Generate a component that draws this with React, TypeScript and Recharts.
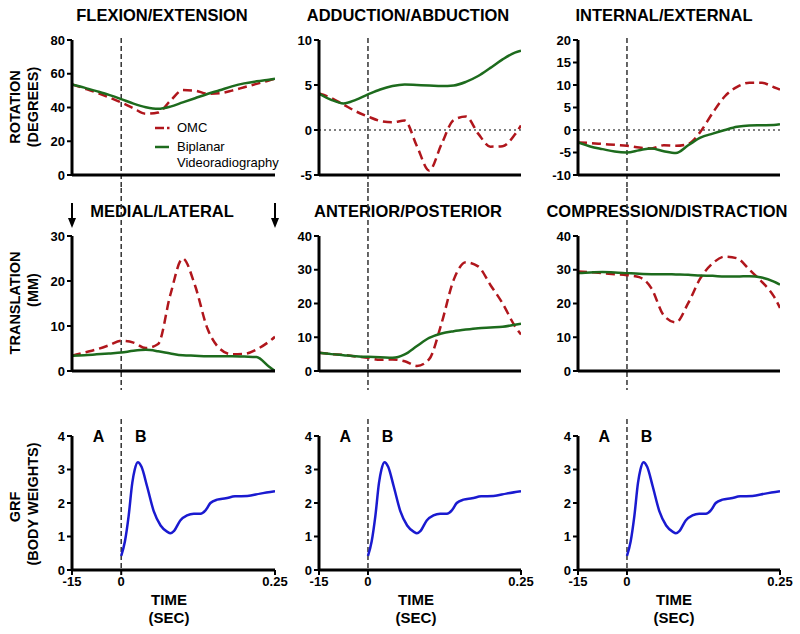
import React from "react";
import { LineChart, Line, XAxis, YAxis, ReferenceLine, ReferenceDot, Legend } from "recharts";

// time grid (s) shared by the six kinematic panels; -0.08 is the "-15" tick
const time = [-0.08, -0.06, -0.04, -0.02, 0, 0.02, 0.04, 0.06, 0.08, 0.1, 0.12, 0.14, 0.16, 0.18, 0.2, 0.22, 0.24, 0.25];

const flexOmc = [53.7, 51.3, 48.8, 46, 43, 39.5, 36.3, 37, 44, 50.3, 50, 48.2, 48.5, 50, 52, 54, 56, 57];
const flexBi = [53.7, 51.8, 49.7, 47.5, 45, 42.3, 40.2, 39.2, 40.5, 43, 45.5, 48, 50.2, 52.5, 54.3, 55.5, 56.5, 57];

const addOmc = [4.06, 3.57, 2.83, 2.08, 1.5, 1.0, 0.85, 1.05, -1.8, -4.5, -1.6, 1.1, 1.5, -0.4, -1.85, -1.8, -0.5, 0.5];
const addBi = [4.06, 3.35, 2.95, 3.35, 3.95, 4.5, 4.88, 5.05, 5.0, 4.95, 4.88, 4.95, 5.35, 6.0, 6.9, 7.85, 8.6, 8.8];

const intOmc = [-2.76, -2.9, -3.1, -3.3, -3.5, -3.9, -4.1, -3.4, -3.5, -3.1, -0.4, 3.8, 7.5, 9.6, 10.5, 10.5, 9.5, 9.0];
const intBi = [-2.76, -3.65, -4.25, -4.8, -5.0, -4.5, -4.1, -4.7, -5.1, -3.4, -1.7, -0.8, 0.0, 0.7, 1.0, 1.05, 1.1, 1.3];

const medOmc = [3.4, 4.1, 4.8, 5.7, 6.7, 6.3, 5.1, 6.0, 17, 25, 19, 9.5, 5.0, 3.7, 3.8, 4.8, 6.5, 7.6];
const medBi = [3.4, 3.5, 3.7, 3.9, 4.1, 4.5, 4.7, 4.4, 3.9, 3.5, 3.4, 3.3, 3.3, 3.3, 3.2, 3.1, 1.0, 0];

const antOmc = [5.4, 5.0, 4.8, 4.3, 3.9, 3.3, 3.4, 2.9, 1.5, 3.5, 14, 27, 32.2, 31, 25.5, 20, 13.3, 10.8];
const antBi = [5.4, 5.0, 4.7, 4.4, 4.2, 4.1, 3.9, 4.9, 7.4, 9.8, 11.1, 11.8, 12.3, 12.7, 12.9, 13.1, 13.7, 14.0];

const compOmc = [29.5, 29.3, 29.0, 28.7, 28.4, 27.8, 24.5, 16.5, 14.4, 20.1, 27.5, 31.9, 33.9, 33.4, 30, 26.5, 22.1, 18.7];
const compBi = [29.0, 29.2, 29.3, 29.2, 29.0, 28.8, 28.7, 28.7, 28.6, 28.5, 28.3, 28.2, 28.0, 28.0, 28.1, 27.7, 26.5, 25.6];

// ground reaction force
const grfTime = [0, 0.006, 0.012, 0.018, 0.022, 0.027, 0.033, 0.042, 0.053, 0.064, 0.075, 0.08, 0.086, 0.096, 0.107, 0.118, 0.129, 0.137, 0.145, 0.156, 0.17, 0.185, 0.205, 0.226, 0.25];
const grf = [0.42, 0.85, 1.6, 2.6, 3.0, 3.22, 3.08, 2.5, 1.75, 1.33, 1.14, 1.1, 1.17, 1.48, 1.63, 1.68, 1.68, 1.78, 2.0, 2.1, 2.14, 2.2, 2.21, 2.28, 2.35];

const xTicks = [-0.08, 0, 0.25];
const xTickLabels: Record<string, string> = { "-0.08": "-15", "0": "0", "0.25": "0.25" };

const FONT = '"Liberation Sans", Arial, Helvetica, sans-serif';
const RED = "#b0161c";
const GREEN = "#1d6b1d";
const BLUE = "#1a1ad0";

const COLS = [
  { left: 72, width: 203 },
  { left: 319, width: 202 },
  { left: 578, width: 202 },
];
const ROWS = [
  { top: 40, height: 135 },
  { top: 236, height: 135 },
  { top: 436, height: 134 },
];
const PAD_L = 62;
const PAD_T = 55;
const PAD_R = 30;
const AX_H = 30;

const vDash = (ext: [number, number]) => (props: any) => {
  const top = Math.min(props.y1, props.y2) - ext[0];
  const bot = Math.max(props.y1, props.y2) + ext[1];
  return <line x1={props.x1} x2={props.x1} y1={top} y2={bot} stroke="#333" strokeWidth={1.5} strokeDasharray="5 3" />;
};

const arrowShape = (props: any) => {
  const x = props.x1;
  const top = Math.min(props.y1, props.y2);
  return (
    <g>
      <line x1={x} x2={x} y1={top - 33} y2={top - 15} stroke="#000" strokeWidth={2} />
      <path d={`M${x - 4},${top - 18} L${x + 4},${top - 18} L${x},${top - 8} Z`} fill="#000" />
    </g>
  );
};

const legendContent = () => (
  <div style={{ fontFamily: FONT, fontSize: 13, color: "#000", lineHeight: "16px" }}>
    <div style={{ display: "flex", alignItems: "center" }}>
      <svg width={22} height={16}>
        <line x1={0} x2={9} y1={8} y2={8} stroke={RED} strokeWidth={2.5} />
        <line x1={12} x2={14.5} y1={8} y2={8} stroke={RED} strokeWidth={2.5} />
      </svg>
      <span>OMC</span>
    </div>
    <div style={{ display: "flex", alignItems: "flex-start", marginTop: 3 }}>
      <svg width={22} height={16}>
        <line x1={0} x2={14} y1={8} y2={8} stroke={GREEN} strokeWidth={2.5} />
      </svg>
      <span>
        Biplanar
        <br />
        Videoradiography
      </span>
    </div>
  </div>
);

type PanelProps = {
  col: number;
  row: number;
  data: any[];
  yDomain: [number, number];
  yTicks: number[];
  zero?: boolean;
  arrows?: boolean;
  legend?: boolean;
  grfPanel?: boolean;
};

function Panel({ col, row, data, yDomain, yTicks, zero, arrows, legend, grfPanel }: PanelProps) {
  const c = COLS[col];
  const r = ROWS[row];
  const ext: [number, number] = row === 0 ? [2, 13] : row === 1 ? [48, 19] : [17, 0];
  const axisLine = { stroke: "#000", strokeWidth: 3 };
  const tickStyle = { fill: "#000", fontSize: 13, fontWeight: 700, fontFamily: FONT };
  return (
    <div style={{ position: "absolute", left: c.left - PAD_L, top: r.top - PAD_T }}>
      <LineChart
        width={PAD_L + c.width + PAD_R}
        height={PAD_T + r.height + AX_H}
        data={data}
        margin={{ top: PAD_T, right: PAD_R, bottom: 0, left: 2 }}
        style={{ overflow: "visible" }}
      >
        <XAxis
          type="number"
          dataKey="t"
          domain={[-0.08, 0.25]}
          ticks={grfPanel ? xTicks : []}
          interval={0}
          height={AX_H}
          allowDataOverflow
          axisLine={axisLine}
          tickLine={grfPanel ? { stroke: "#000", strokeWidth: 2 } : false}
          tick={grfPanel ? tickStyle : false}
          tickSize={5}
          tickFormatter={(v: number) => xTickLabels[String(v)] ?? String(v)}
        />
        <YAxis
          type="number"
          domain={yDomain}
          ticks={yTicks}
          interval={0}
          width={60}
          allowDataOverflow
          axisLine={axisLine}
          tickLine={{ stroke: "#000", strokeWidth: 2 }}
          tickSize={5}
          tickMargin={2}
          tick={tickStyle}
        />
        {zero && <ReferenceLine y={0} stroke="#555" strokeWidth={1.3} strokeDasharray="2 3" />}
        <ReferenceLine x={0} shape={vDash(ext)} />
        {arrows && <ReferenceLine x={-0.08} shape={arrowShape} />}
        {arrows && <ReferenceLine x={0.25} shape={arrowShape} />}
        {grfPanel && (
          <ReferenceDot x={-0.037} y={4} r={0} fill="none" stroke="none"
            label={{ value: "A", position: "center", fill: "#000", fontSize: 16, fontWeight: 700, fontFamily: FONT }} />
        )}
        {grfPanel && (
          <ReferenceDot x={0.032} y={4} r={0} fill="none" stroke="none"
            label={{ value: "B", position: "center", fill: "#000", fontSize: 16, fontWeight: 700, fontFamily: FONT }} />
        )}
        {grfPanel ? (
          <Line type="monotone" dataKey="grf" stroke={BLUE} strokeWidth={2.5} dot={false} isAnimationActive={false} />
        ) : (
          <Line type="monotone" dataKey="omc" stroke={RED} strokeWidth={2.5} strokeDasharray="9 5" dot={false} isAnimationActive={false} />
        )}
        {!grfPanel && (
          <Line type="monotone" dataKey="bi" stroke={GREEN} strokeWidth={2.5} dot={false} isAnimationActive={false} />
        )}
        {legend && (
          <Legend
            content={legendContent}
            layout="vertical"
            align="center"
            verticalAlign="middle"
            wrapperStyle={{ left: 145, top: 135, width: 140 }}
          />
        )}
      </LineChart>
    </div>
  );
}

const pair = (omc: number[], bi: number[]) => time.map((t, i) => ({ t, omc: omc[i], bi: bi[i] }));
const grfData = grfTime.map((t, i) => ({ t, grf: grf[i] }));

const textBase: React.CSSProperties = {
  position: "absolute",
  whiteSpace: "nowrap",
  fontFamily: FONT,
  fontWeight: 700,
  color: "#000",
  lineHeight: 1,
};

const Title = ({ x, y, text }: { x: number; y: number; text: string }) => (
  <div style={{ ...textBase, left: x, top: y, fontSize: 16.5, transform: "translate(-50%, -50%)" }}>{text}</div>
);

const VLabel = ({ x, y, text }: { x: number; y: number; text: string }) => (
  <div style={{ ...textBase, left: x, top: y, fontSize: 14.5, transform: "translate(-50%, -50%) rotate(-90deg)" }}>{text}</div>
);

const XLabel = ({ x, y, text }: { x: number; y: number; text: string }) => (
  <div style={{ ...textBase, left: x, top: y, fontSize: 15, transform: "translate(-50%, -50%)" }}>{text}</div>
);

export default function App() {
  return (
    <div style={{ position: "absolute", left: 0, top: 0, width: 800, height: 634, background: "#fff", overflow: "hidden" }}>
      <Title x={162} y={15} text="FLEXION/EXTENSION" />
      <Title x={408} y={15} text="ADDUCTION/ABDUCTION" />
      <Title x={664} y={15} text="INTERNAL/EXTERNAL" />
      <Title x={162} y={211} text="MEDIAL/LATERAL" />
      <Title x={408} y={211} text="ANTERIOR/POSTERIOR" />
      <Title x={667} y={211} text="COMPRESSION/DISTRACTION" />

      <VLabel x={15} y={107} text="ROTATION" />
      <VLabel x={33} y={107} text="(DEGREES)" />
      <VLabel x={15} y={303} text="TRANSLATION" />
      <VLabel x={33} y={290} text="(MM)" />
      <VLabel x={15} y={507} text="GRF" />
      <VLabel x={33} y={504} text="(BODY WEIGHTS)" />

      <Panel col={0} row={0} data={pair(flexOmc, flexBi)} yDomain={[0, 80]} yTicks={[0, 20, 40, 60, 80]} legend />
      <Panel col={1} row={0} data={pair(addOmc, addBi)} yDomain={[-5, 10]} yTicks={[-5, 0, 5, 10]} zero />
      <Panel col={2} row={0} data={pair(intOmc, intBi)} yDomain={[-10, 20]} yTicks={[-10, -5, 0, 5, 10, 15, 20]} zero />

      <Panel col={0} row={1} data={pair(medOmc, medBi)} yDomain={[0, 30]} yTicks={[0, 10, 20, 30]} arrows />
      <Panel col={1} row={1} data={pair(antOmc, antBi)} yDomain={[0, 40]} yTicks={[0, 10, 20, 30, 40]} />
      <Panel col={2} row={1} data={pair(compOmc, compBi)} yDomain={[0, 40]} yTicks={[0, 10, 20, 30, 40]} />

      <Panel col={0} row={2} data={grfData} yDomain={[0, 4]} yTicks={[0, 1, 2, 3, 4]} grfPanel />
      <Panel col={1} row={2} data={grfData} yDomain={[0, 4]} yTicks={[0, 1, 2, 3, 4]} grfPanel />
      <Panel col={2} row={2} data={grfData} yDomain={[0, 4]} yTicks={[0, 1, 2, 3, 4]} grfPanel />

      {[169, 416, 674].map((x) => (
        <React.Fragment key={x}>
          <XLabel x={x} y={599} text="TIME" />
          <XLabel x={x} y={617} text="(SEC)" />
        </React.Fragment>
      ))}
    </div>
  );
}
